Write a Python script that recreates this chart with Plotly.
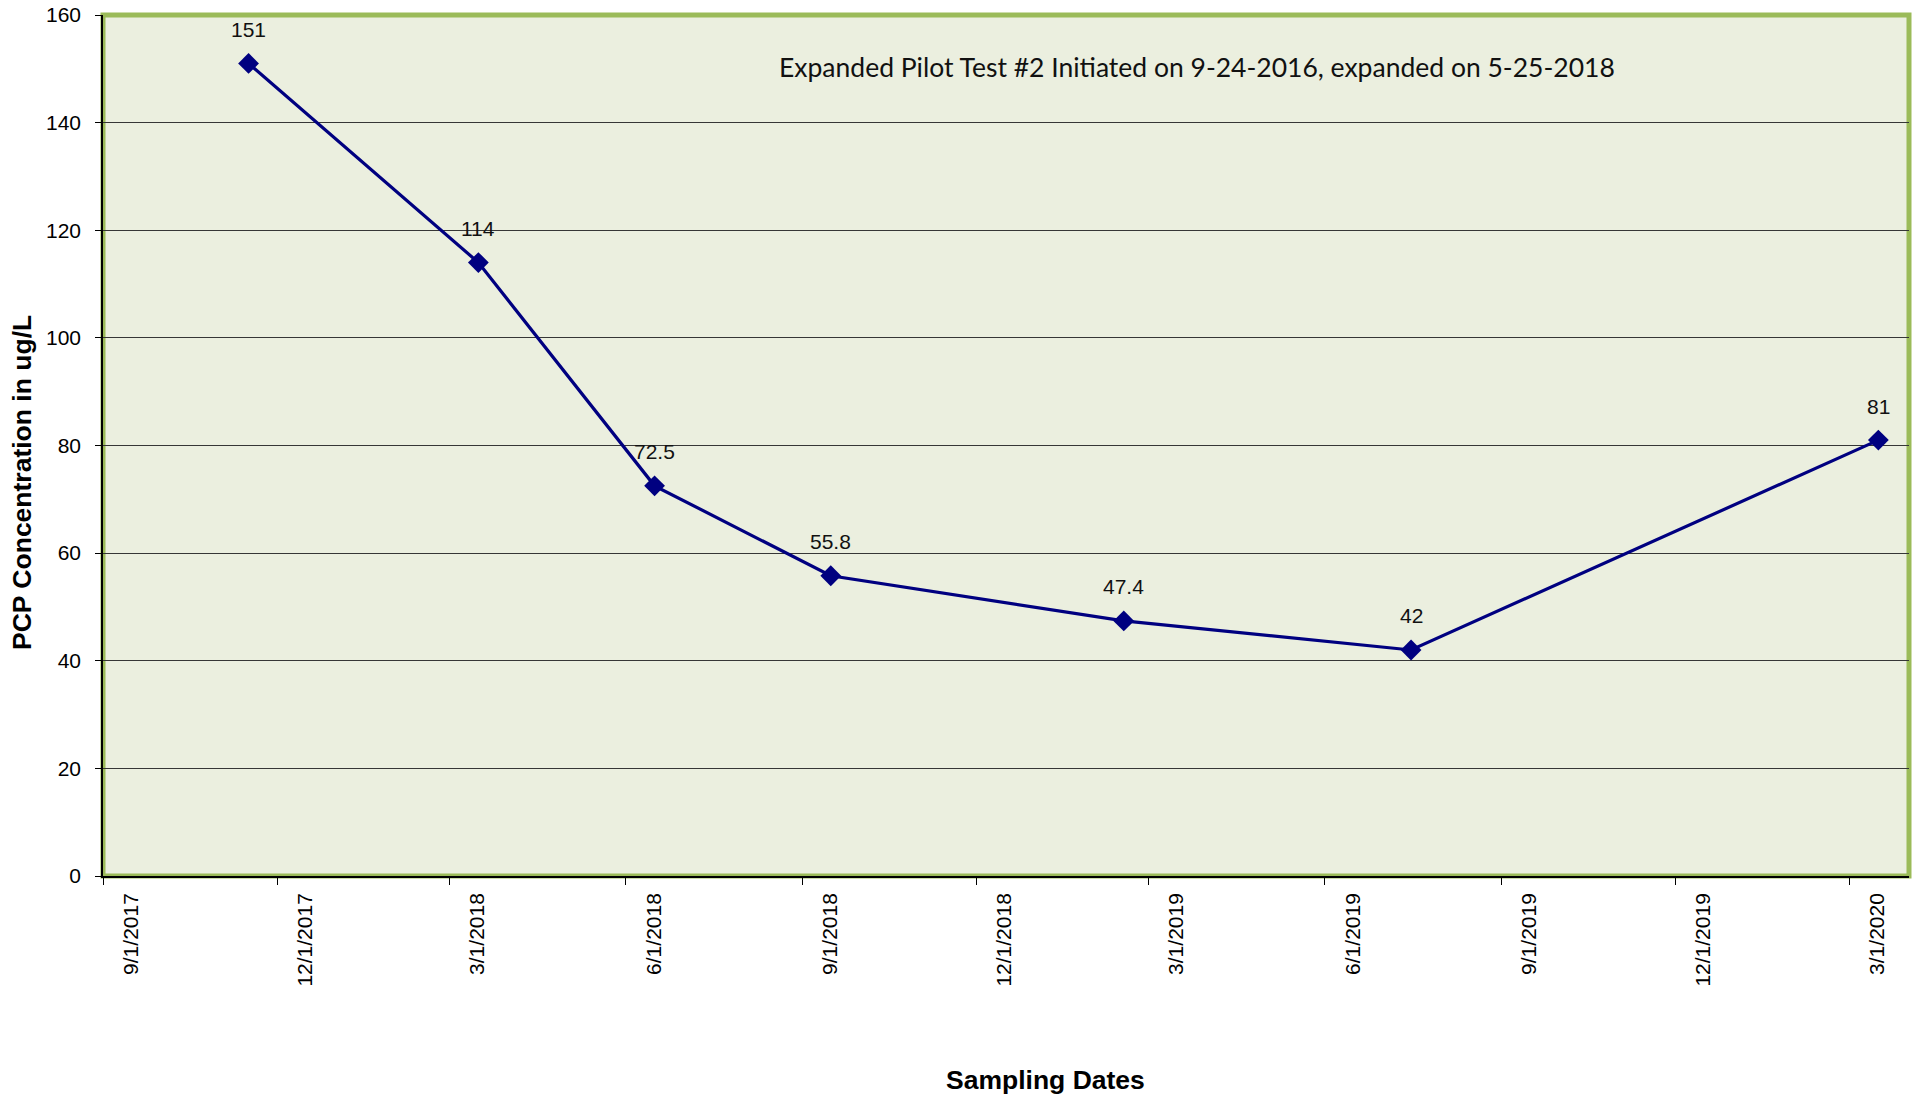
import plotly.graph_objects as go

# Sampling results (PCP, ug/L)
sample_dates = ["2017-11-16", "2018-03-16", "2018-06-16", "2018-09-16",
                "2019-02-16", "2019-07-16", "2020-03-16"]
pcp_ugl = [151, 114, 72.5, 55.8, 47.4, 42, 81]

y_title = "PCP Concentration in ug/L"
x_title = "Sampling Dates"
note_text = "Expanded Pilot Test #2 Initiated on 9-24-2016, expanded on 5-25-2018"

W, H = 1921, 1099
ML, MR, MT, MB = 103, 12, 15, 223
PW, PH = W - ML - MR, H - MT - MB

fig = go.Figure()
fig.add_trace(go.Scatter(
    x=sample_dates, y=pcp_ugl, mode="lines+markers",
    line=dict(color="#000080", width=3.2),
    marker=dict(symbol="diamond", size=16, color="#000080"),
    hoverinfo="skip", showlegend=False,
))

# value labels above each point
for d, v in zip(sample_dates, pcp_ugl):
    fig.add_annotation(x=d, y=v, text=f"{v:g}", showarrow=False,
                       yshift=34, font=dict(family="Arial, Liberation Sans", size=21, color="#111"))

# green frame around the plotting area
fig.add_shape(type="rect", xref="paper", yref="paper", x0=0, x1=1, y0=0, y1=1,
              line=dict(color="#9BBB59", width=5), layer="below")

fig.add_annotation(xref="paper", yref="paper", x=(1197 - ML) / PW,
                   y=1 - (67 - MT) / PH, text=note_text, showarrow=False,
                   xanchor="center", yanchor="middle",
                   font=dict(family="Lato, Open Sans", size=26.5, color="#111"))

fig.add_annotation(xref="paper", yref="paper", x=(1045 - ML) / PW,
                   y=-(1080 - (H - MB)) / PH, text=f"<b>{x_title}</b>",
                   showarrow=False, xanchor="center", yanchor="middle",
                   font=dict(family="Arial, Liberation Sans", size=26.5, color="#000"))

fig.add_annotation(xref="paper", yref="paper", x=-(ML - 22) / PW,
                   y=1 - (483 - MT) / PH, text=f"<b>{y_title}</b>",
                   showarrow=False, xanchor="center", yanchor="middle", textangle=-90,
                   font=dict(family="Arial, Liberation Sans", size=26.5, color="#000"))

fig.update_xaxes(
    type="date", range=["2017-09-01", "2020-04-01"], automargin=False,
    tick0="2017-09-01", dtick="M3", tickformat="%-m/%-d/%Y", tickangle=-90,
    ticklabelshift=28,
    ticks="outside", ticklen=7, tickcolor="#000", tickwidth=1,
    showline=True, linecolor="#000", linewidth=1.5, showgrid=False, zeroline=False,
    tickfont=dict(family="Arial, Liberation Sans", size=21, color="#000"),
)
fig.update_yaxes(
    range=[0, 160], dtick=20, ticks="outside", ticklen=6, tickcolor="#000",
    automargin=False,
    showline=True, linecolor="#000", linewidth=1.5,
    showgrid=True, gridcolor="#363636", gridwidth=1, zeroline=False,
    ticklabelstandoff=10,
    tickfont=dict(family="Arial, Liberation Sans", size=21, color="#000"),
)

fig.update_layout(
    width=W, height=H, autosize=False,
    margin=dict(l=ML, r=MR, t=MT, b=MB),
    paper_bgcolor="#FFFFFF", plot_bgcolor="#EBEFDF",
)

fig.write_html("out.html")
